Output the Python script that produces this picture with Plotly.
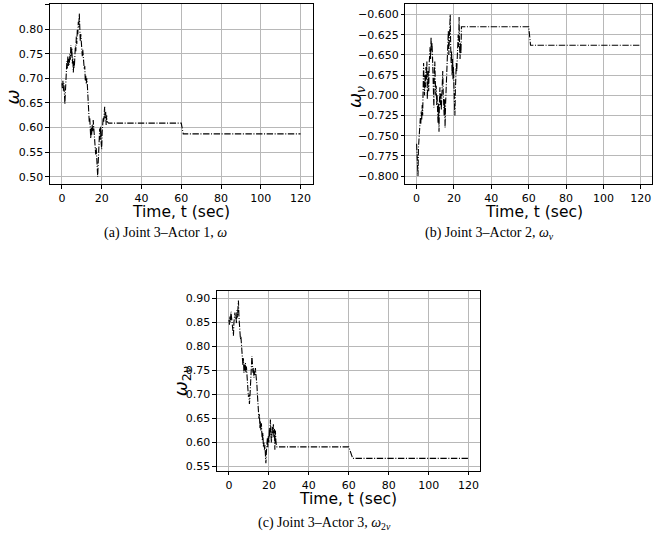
import plotly.graph_objects as go

W, H = 653, 544

# ---------------- data ----------------
step = 0.25
omega_a = [0.690, 0.680, 0.695, 0.675, 0.690, 0.668, 0.648, 0.672, 0.700, 0.715,
           0.735, 0.720, 0.745, 0.725, 0.740, 0.728, 0.750, 0.738, 0.768, 0.745,
           0.762, 0.730, 0.742, 0.712, 0.735, 0.722, 0.748, 0.765, 0.755, 0.785,
           0.770, 0.800, 0.790, 0.815, 0.805, 0.832, 0.795, 0.775, 0.790, 0.760,
           0.768, 0.745, 0.758, 0.735, 0.742, 0.718, 0.725, 0.695, 0.705, 0.688,
           0.700, 0.690, 0.670, 0.645, 0.628, 0.612, 0.620, 0.595, 0.578, 0.600,
           0.585, 0.605, 0.592, 0.615, 0.598, 0.575, 0.582, 0.560, 0.545, 0.558,
           0.535, 0.520, 0.500, 0.528, 0.555, 0.580, 0.598, 0.575, 0.602, 0.568,
           0.556, 0.590, 0.608, 0.620, 0.612, 0.630, 0.642, 0.618, 0.632, 0.605,
           0.625, 0.612, 0.610, 0.609, 0.609, 0.609, 0.609]
tail_t_a = [60, 61, 120]
tail_a = [0.609, 0.587, 0.587]

omega_b = [-0.760, -0.770, -0.795, -0.800, -0.765, -0.750, -0.740, -0.733, -0.728, -0.735,
           -0.720, -0.730, -0.712, -0.725, -0.690, -0.660, -0.685, -0.700, -0.675, -0.690,
           -0.665, -0.680, -0.658, -0.705, -0.685, -0.670, -0.695, -0.660, -0.650, -0.640,
           -0.655, -0.628, -0.645, -0.635, -0.650, -0.668, -0.690, -0.715, -0.670, -0.658,
           -0.680, -0.700, -0.688, -0.712, -0.700, -0.720, -0.735, -0.710, -0.745, -0.705,
           -0.690, -0.712, -0.698, -0.718, -0.700, -0.685, -0.670, -0.695, -0.710, -0.725,
           -0.705, -0.740, -0.712, -0.695, -0.705, -0.680, -0.660, -0.640, -0.620, -0.650,
           -0.615, -0.630, -0.600, -0.640, -0.660, -0.645, -0.675, -0.655, -0.680, -0.665,
           -0.690, -0.700, -0.725, -0.695, -0.680, -0.660, -0.670, -0.640, -0.655, -0.625,
           -0.640, -0.603, -0.640, -0.655, -0.635, -0.648, -0.615]
tail_t_b = [60, 61, 120]
tail_b = [-0.615, -0.638, -0.638]

omega_c = [0.855, 0.845, 0.862, 0.850, 0.872, 0.858, 0.865, 0.842, 0.835, 0.822,
           0.850, 0.862, 0.870, 0.858, 0.862, 0.848, 0.875, 0.860, 0.885, 0.895,
           0.862, 0.840, 0.828, 0.815, 0.820, 0.800, 0.790, 0.770, 0.760, 0.775,
           0.745, 0.762, 0.750, 0.765, 0.745, 0.758, 0.740, 0.725, 0.710, 0.695,
           0.700, 0.680, 0.695, 0.712, 0.735, 0.760, 0.780, 0.765, 0.745, 0.755,
           0.735, 0.748, 0.740, 0.755, 0.742, 0.735, 0.720, 0.700, 0.680, 0.665,
           0.650, 0.660, 0.630, 0.645, 0.625, 0.640, 0.615, 0.605, 0.620, 0.590,
           0.600, 0.585, 0.595, 0.575, 0.557, 0.580, 0.595, 0.610, 0.590, 0.615,
           0.600, 0.630, 0.610, 0.648, 0.625, 0.600, 0.615, 0.632, 0.620, 0.638,
           0.610, 0.628, 0.585, 0.625, 0.605, 0.592, 0.591]
tail_t_c = [60, 62, 120]
tail_c = [0.591, 0.567, 0.567]

t_noisy = [i * step for i in range(len(omega_a))]

x_title = "Time, t (sec)"
captions = ["(a) Joint 3\u2013Actor 1, <i>\u03c9</i>",
            "(b) Joint 3\u2013Actor 2, <i>\u03c9<sub>\u03bd</sub></i>",
            "(c) Joint 3\u2013Actor 3, <i>\u03c9</i><sub>2<i>\u03bd</i></sub>"]
y_titles = ["<i>\u03c9</i>", "<i>\u03c9</i><sub><i>\u03bd</i></sub>",
            "<i>\u03c9</i><sub>2<i>\u03bd</i></sub>"]

# ---------------- figure ----------------
fig = go.Figure()
line = dict(color="black", width=1.1, dash="6.4px,1.6px,1px,1.6px")
series = [(omega_a, tail_t_a, tail_a), (omega_b, tail_t_b, tail_b), (omega_c, tail_t_c, tail_c)]
for i, (vals, tt, tv) in enumerate(series):
    sfx = "" if i == 0 else str(i + 1)
    fig.add_trace(go.Scatter(x=t_noisy + tt, y=vals + tv, mode="lines", line=line,
                             xaxis="x" + sfx, yaxis="y" + sfx, showlegend=False))

def px_dom_x(a, b):
    return [a / W, min(b / W, 1.0)]

def px_dom_y(top, bottom):
    return [1 - bottom / H, 1 - top / H]

tickfont = dict(family="DejaVu Sans", size=11, color="black")
common = dict(showgrid=True, gridcolor="#b8b8b8", gridwidth=0.9, showline=True,
              linecolor="black", linewidth=1, mirror=True, ticks="outside",
              ticklen=3.5, tickwidth=0.8, tickcolor="black", tickfont=tickfont,
              zeroline=False)

panels = [
    dict(x=(50, 313), y=(4.3, 185), xr=[-6.02, 126.0], yr=[0.4844, 0.8507],
         ytick=0.05, yfmt=".2f", y0=0.50),
    dict(x=(406, 653.5), y=(4.3, 185), xr=[-6.0, 126.0], yr=[-0.8102, -0.5872],
         ytick=0.025, yfmt=".3f", y0=-0.800),
    dict(x=(217.3, 480.7), y=(292.3, 472.7), xr=[-6.0, 125.7], yr=[0.5409, 0.9145],
         ytick=0.05, yfmt=".2f", y0=0.55),
]
lay = {}
for i, p in enumerate(panels):
    sfx = "" if i == 0 else str(i + 1)
    lay["xaxis" + sfx] = dict(common, domain=px_dom_x(*p["x"]), range=p["xr"],
                              tick0=0, dtick=20, anchor="y" + sfx)
    lay["yaxis" + sfx] = dict(common, domain=px_dom_y(*p["y"]), range=p["yr"],
                              tick0=p["y0"], dtick=p["ytick"], tickformat=p["yfmt"],
                              anchor="x" + sfx)
fig.update_layout(**lay)

ann = []
# x titles
for cx, cy in [(181.5, 213), (535, 213), (349, 501)]:
    ann.append(dict(text=x_title, x=cx / W, y=1 - cy / H, xref="paper", yref="paper",
                    showarrow=False, xanchor="center", yanchor="middle",
                    font=dict(family="DejaVu Sans", size=15.5, color="black")))
# y titles
for txt, cx, cy in zip(y_titles, [13, 356, 182], [97, 97, 383]):
    ann.append(dict(text=txt, x=cx / W, y=1 - cy / H, xref="paper", yref="paper",
                    showarrow=False, xanchor="center", yanchor="middle", textangle=-90,
                    font=dict(family="DejaVu Sans", size=18, color="black")))
# captions
for txt, cx, cy in zip(captions, [166, 490, 325], [234, 234, 525]):
    ann.append(dict(text=txt, x=cx / W, y=1 - cy / H, xref="paper", yref="paper",
                    showarrow=False, xanchor="center", yanchor="middle",
                    font=dict(family="Liberation Serif", size=14, color="black")))

fig.update_layout(width=W, height=H, margin=dict(l=0, r=0, t=0, b=0),
                  paper_bgcolor="white", plot_bgcolor="white", annotations=ann)

fig.write_html("out.html")
